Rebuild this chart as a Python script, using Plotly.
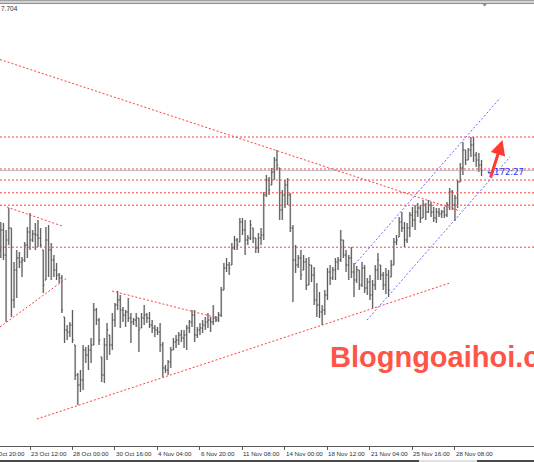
import plotly.graph_objects as go

# ---- H4 price bars, oldest first -------------------------------------------
bar_open = [
    106.91, 107.11, 106.86, 107.01, 107.13, 106.41, 106.71, 106.83, 106.79, 106.81,
    106.96, 107.09, 107.01, 107.07, 107.06, 107.03, 106.91, 106.61, 107.01, 106.91,
    106.81, 106.71, 106.66, 106.63, 106.24, 106.11, 106.09, 106.16, 105.96, 105.66,
    105.56, 105.61, 105.91, 105.86, 105.91, 105.96, 106.31, 106.21, 105.84, 105.66,
    105.96, 106.06, 105.96, 106.21, 106.36, 106.41, 106.31, 106.26, 106.29, 106.23,
    106.19, 106.21, 106.23, 106.13, 106.23, 106.26, 106.23, 106.16, 106.13, 106.11,
    106.09, 105.96, 105.73, 105.71, 105.79, 105.91, 105.99, 106.01, 106.06, 106.03,
    106.06, 106.13, 106.19, 106.26, 106.06, 106.11, 106.13, 106.16, 106.19, 106.21,
    106.19, 106.23, 106.21, 106.26, 106.51, 106.73, 106.76, 106.76, 106.93, 107.01,
    106.99, 107.19, 107.11, 107.01, 107.03, 107.13, 107.03, 106.93, 107.03, 107.06,
    107.46, 107.61, 107.56, 107.69, 107.81, 107.73, 107.31, 107.46, 107.56, 107.46,
    107.13, 106.81, 106.76, 106.83, 106.71, 106.79, 106.56, 106.76, 106.66, 106.41,
    106.36, 106.29, 106.31, 106.46, 106.69, 106.63, 106.71, 106.79, 106.81, 107.01,
    106.86, 106.76, 106.83, 106.69, 106.61, 106.71, 106.56, 106.73, 106.53, 106.59,
    106.46, 106.56, 106.71, 106.76, 106.66, 106.56, 106.66, 106.64, 106.76, 106.99,
    107.04, 107.19, 107.13, 107.01, 107.13, 107.26, 107.21, 107.29, 107.33, 107.23,
    107.36, 107.29, 107.36, 107.29, 107.23, 107.29, 107.27, 107.29, 107.26, 107.36,
    107.49, 107.36, 107.43, 107.59, 107.73, 107.91, 107.81, 107.91, 107.96, 107.86,
    107.81, 107.76,
]
bar_high = [
    107.19, 107.18, 107.11, 107.33, 107.13, 106.79, 106.91, 106.89, 106.84, 106.99,
    107.14, 107.28, 107.11, 107.18, 107.21, 107.13, 106.91, 107.14, 107.16, 106.98,
    106.86, 106.78, 106.68, 106.66, 106.24, 106.16, 106.19, 106.31, 105.96, 105.68,
    105.71, 105.96, 105.94, 105.96, 106.03, 106.38, 106.33, 106.23, 105.84, 106.03,
    106.18, 106.06, 106.28, 106.38, 106.50, 106.46, 106.34, 106.31, 106.43, 106.28,
    106.23, 106.28, 106.23, 106.28, 106.36, 106.28, 106.29, 106.21, 106.16, 106.14,
    106.18, 105.99, 105.76, 105.81, 105.94, 106.03, 106.06, 106.09, 106.11, 106.11,
    106.16, 106.21, 106.31, 106.31, 106.14, 106.18, 106.21, 106.24, 106.28, 106.24,
    106.36, 106.25, 106.29, 106.54, 106.78, 106.83, 106.79, 106.98, 107.05, 107.03,
    107.23, 107.23, 107.21, 107.06, 107.21, 107.13, 107.03, 107.08, 107.13, 107.49,
    107.66, 107.64, 107.73, 107.84, 107.91, 107.73, 107.51, 107.61, 107.63, 107.48,
    107.16, 106.96, 106.86, 106.91, 106.86, 106.83, 106.84, 106.76, 106.74, 106.58,
    106.49, 106.36, 106.51, 106.73, 106.76, 106.74, 106.83, 106.84, 107.11, 107.01,
    106.91, 106.86, 106.94, 106.78, 106.75, 106.71, 106.79, 106.76, 106.63, 106.66,
    106.61, 106.76, 106.88, 106.76, 106.69, 106.73, 106.71, 106.81, 107.03, 107.06,
    107.24, 107.29, 107.19, 107.18, 107.29, 107.34, 107.36, 107.38, 107.36, 107.41,
    107.38, 107.41, 107.39, 107.34, 107.33, 107.33, 107.31, 107.34, 107.39, 107.53,
    107.51, 107.46, 107.61, 107.78, 107.99, 107.91, 107.93, 108.04, 108.04, 107.89,
    107.88, 107.81,
]
bar_low = [
    106.83, 106.81, 106.19, 106.96, 106.24, 106.33, 106.43, 106.73, 106.64, 106.79,
    106.83, 106.91, 106.99, 106.91, 106.94, 106.94, 106.48, 106.61, 106.64, 106.61,
    106.64, 106.61, 106.58, 106.28, 105.98, 106.01, 106.04, 105.98, 105.61, 105.36,
    105.49, 105.51, 105.78, 105.71, 105.78, 105.96, 106.16, 105.96, 105.59, 105.58,
    105.81, 105.86, 105.91, 106.14, 106.31, 106.13, 106.19, 106.14, 106.19, 105.98,
    106.16, 106.14, 105.89, 106.13, 106.16, 106.18, 106.13, 106.08, 106.04, 106.06,
    105.89, 105.64, 105.68, 105.66, 105.73, 105.91, 105.93, 105.96, 105.99, 105.93,
    105.91, 106.08, 106.14, 105.99, 106.03, 106.06, 106.08, 106.11, 106.13, 106.09,
    106.16, 106.19, 106.19, 106.24, 106.51, 106.69, 106.66, 106.76, 106.91, 106.91,
    106.99, 107.06, 106.86, 106.96, 107.01, 106.98, 106.88, 106.88, 106.96, 107.01,
    107.44, 107.46, 107.56, 107.61, 107.71, 107.21, 107.21, 107.33, 107.36, 107.09,
    106.39, 106.68, 106.73, 106.61, 106.71, 106.51, 106.56, 106.59, 106.36, 106.24,
    106.23, 106.16, 106.26, 106.41, 106.56, 106.61, 106.61, 106.71, 106.79, 106.83,
    106.69, 106.61, 106.63, 106.44, 106.58, 106.51, 106.54, 106.48, 106.46, 106.41,
    106.33, 106.51, 106.61, 106.61, 106.51, 106.47, 106.44, 106.64, 106.76, 106.96,
    107.04, 107.09, 106.94, 106.98, 107.04, 107.14, 107.11, 107.24, 107.18, 107.23,
    107.21, 107.28, 107.24, 107.19, 107.18, 107.24, 107.23, 107.23, 107.24, 107.31,
    107.31, 107.20, 107.33, 107.59, 107.66, 107.76, 107.81, 107.84, 107.79, 107.74,
    107.69, 107.65,
]
bar_close = [
    107.11, 106.86, 107.01, 107.13, 106.41, 106.71, 106.83, 106.79, 106.81, 106.96,
    107.09, 107.01, 107.07, 107.06, 107.03, 106.96, 106.56, 107.01, 106.91, 106.81,
    106.71, 106.66, 106.63, 106.31, 106.11, 106.09, 106.16, 106.01, 105.66, 105.56,
    105.61, 105.91, 105.86, 105.91, 105.96, 106.31, 106.21, 106.01, 105.66, 105.96,
    106.11, 105.96, 106.21, 106.36, 106.41, 106.31, 106.26, 106.29, 106.23, 106.19,
    106.21, 106.23, 106.11, 106.23, 106.26, 106.23, 106.16, 106.13, 106.11, 106.09,
    105.96, 105.73, 105.71, 105.79, 105.91, 105.99, 106.01, 106.06, 106.03, 106.06,
    106.13, 106.19, 106.26, 106.06, 106.11, 106.13, 106.16, 106.19, 106.21, 106.19,
    106.23, 106.21, 106.26, 106.51, 106.73, 106.76, 106.73, 106.93, 107.01, 106.96,
    107.19, 107.11, 107.01, 107.03, 107.16, 107.03, 106.93, 107.03, 107.06, 107.46,
    107.61, 107.51, 107.69, 107.81, 107.76, 107.31, 107.46, 107.56, 107.46, 107.13,
    106.81, 106.76, 106.83, 106.66, 106.79, 106.56, 106.76, 106.66, 106.41, 106.36,
    106.29, 106.31, 106.46, 106.69, 106.63, 106.71, 106.79, 106.81, 107.01, 106.86,
    106.76, 106.83, 106.69, 106.61, 106.71, 106.56, 106.73, 106.53, 106.59, 106.46,
    106.56, 106.71, 106.81, 106.66, 106.56, 106.66, 106.51, 106.76, 106.99, 107.01,
    107.19, 107.13, 107.01, 107.13, 107.26, 107.21, 107.29, 107.33, 107.23, 107.36,
    107.29, 107.36, 107.29, 107.23, 107.29, 107.27, 107.29, 107.26, 107.36, 107.49,
    107.36, 107.43, 107.59, 107.73, 107.91, 107.81, 107.91, 107.96, 107.86, 107.81,
    107.76, 107.704,
]

# ---- time axis: one label every 16 bars -------------------------------------
tick_bars = [-5, 11, 27, 43, 59, 75, 91, 107, 123, 139, 155, 171]
tick_text = ["20 Oct 20:00", "23 Oct 12:00", "28 Oct 00:00", "30 Oct 16:00",
             "4 Nov 04:00", "6 Nov 20:00", "11 Nov 08:00", "14 Nov 00:00",
             "18 Nov 12:00", "21 Nov 04:00", "25 Nov 16:00", "28 Nov 08:00"]

# ---- drawn objects ----------------------------------------------------------
level_prices = [108.04, 107.72, 107.61, 107.482, 107.358, 106.938]

# red trend lines: (bar, price) -> (bar, price)
red_x0 = [-0.3, 2.3, -0.3, 41.9, 13.6]
red_y0 = [108.815, 107.34, 106.14, 106.50, 105.22]
red_x1 = [172.9, 23.1, 24.9, 81.8, 169.1]
red_y1 = [107.30, 107.15, 106.63, 106.23, 106.58]

# blue rising channel
blue_x0 = [133.4, 137.9]
blue_y0 = [106.77, 106.21]
blue_x1 = [188.0, 191.7]
blue_y1 = [108.43, 107.84]

arrow_tail = (184.2, 107.62)
arrow_head = (188.9, 108.01)
timer_text = "←172:27"
timer_pos = (182.6, 107.69)

X_RANGE = [-0.294, 200.76]
Y_RANGE = [104.95, 109.37]

RED = "#ff3c3c"
BLUE = "#6464ff"
AXIS = "#5a5a5a"
LABEL_FONT = dict(family="Liberation Sans, Arial, sans-serif", size=6.2, color="#2e2e2e")

fig = go.Figure()
bar_x = list(range(len(bar_close)))
# soft halo under each bar, then the bar itself
fig.add_trace(go.Ohlc(
    x=bar_x, open=bar_open, high=bar_high, low=bar_low, close=bar_close,
    increasing=dict(line=dict(color="#cdcdcd", width=2.0)),
    decreasing=dict(line=dict(color="#cdcdcd", width=2.0)),
    tickwidth=0.45, hoverinfo="skip",
))
fig.add_trace(go.Ohlc(
    x=bar_x, open=bar_open, high=bar_high, low=bar_low, close=bar_close,
    increasing=dict(line=dict(color="#3c3c3c", width=0.8)),
    decreasing=dict(line=dict(color="#3c3c3c", width=0.8)),
    tickwidth=0.4, hoverinfo="skip",
))

shapes = []
# bid line
shapes.append(dict(type="line", xref="paper", x0=0, x1=1, yref="y",
                   y0=bar_close[-1], y1=bar_close[-1], layer="below",
                   line=dict(color="#bcbcbc", width=1)))
for p in level_prices:
    shapes.append(dict(type="line", xref="paper", x0=0, x1=1, yref="y", y0=p, y1=p,
                       line=dict(color=RED, width=1, dash="2px,2px")))
for x0, y0, x1, y1 in zip(red_x0, red_y0, red_x1, red_y1):
    shapes.append(dict(type="line", xref="x", yref="y", x0=x0, y0=y0, x1=x1, y1=y1,
                       line=dict(color=RED, width=1, dash="2px,2px")))
for x0, y0, x1, y1 in zip(blue_x0, blue_y0, blue_x1, blue_y1):
    shapes.append(dict(type="line", xref="x", yref="y", x0=x0, y0=y0, x1=x1, y1=y1,
                       line=dict(color=BLUE, width=1, dash="2px,2px")))

# window frame: top band, shift marker, bottom edge
PLOT_H = 442.0
def py(px):
    return (446.0 - px) / PLOT_H

shapes += [
    dict(type="rect", xref="paper", yref="paper", x0=0, x1=1, y0=py(4), y1=py(0),
         fillcolor="#d2d2d2", line=dict(width=0)),
    dict(type="line", xref="paper", yref="paper", x0=0, x1=1, y0=py(0.5), y1=py(0.5),
         line=dict(color="#a2a2a2", width=1)),
    dict(type="line", xref="paper", yref="paper", x0=0, x1=1, y0=py(3.5), y1=py(3.5),
         line=dict(color="#8e8e8e", width=1)),
    dict(type="path", xref="paper", yref="paper",
         path=f"M {481.7/534} {py(3.3)} L {487.5/534} {py(3.3)} L {484.6/534} {py(6.5)} Z",
         fillcolor="#8a8a8a", line=dict(width=0)),
    dict(type="line", xref="paper", yref="paper", x0=0, x1=419/534, y0=py(461), y1=py(461),
         line=dict(color="#4a4a4a", width=2)),
    dict(type="line", xref="paper", yref="paper", x0=419/534, x1=477/534, y0=py(461), y1=py(461),
         line=dict(color="#e2e2e2", width=2)),
    dict(type="line", xref="paper", yref="paper", x0=477/534, x1=1, y0=py(461), y1=py(461),
         line=dict(color="#4a4a4a", width=2)),
]

annotations = []
span = X_RANGE[1] - X_RANGE[0]
for b, t in zip(tick_bars, tick_text):
    if X_RANGE[0] <= b <= X_RANGE[1]:
        annotations.append(dict(x=b, xref="x", y=py(453), yref="paper", text=t,
                                showarrow=False, xanchor="left", yanchor="middle",
                                borderpad=0, font=LABEL_FONT))
    else:
        annotations.append(dict(x=(b - X_RANGE[0]) / span, xref="paper", y=py(453),
                                yref="paper", text=t, showarrow=False, xanchor="left",
                                yanchor="middle", borderpad=0, font=LABEL_FONT))

annotations.append(dict(x=0, xref="paper", y=py(9), yref="paper", text="7.704",
                        showarrow=False, xanchor="left", yanchor="middle", borderpad=0,
                        font=dict(family="Liberation Sans, Arial, sans-serif", size=6.5,
                                  color="#2e2e2e")))
annotations.append(dict(x=timer_pos[0], y=timer_pos[1], xref="x", yref="y", text=timer_text,
                        showarrow=False, xanchor="left", yanchor="middle", borderpad=0,
                        font=dict(family="DejaVu Sans, sans-serif", size=8.5,
                                  color="#3434ff")))
annotations.append(dict(x=arrow_head[0], y=arrow_head[1], xref="x", yref="y",
                        ax=arrow_tail[0], ay=arrow_tail[1], axref="x", ayref="y",
                        text="", showarrow=True, arrowhead=2, arrowsize=1,
                        arrowwidth=3, arrowcolor="#ff3b30", standoff=0))
annotations.append(dict(x=329 / 534, xref="paper", y=py(357), yref="paper",
                        text="<b>Blogngoaihoi.com</b>", showarrow=False,
                        xanchor="left", yanchor="middle", borderpad=0,
                        font=dict(family="Liberation Sans, Arial, sans-serif", size=29,
                                  color="#ff5549")))

fig.update_layout(
    width=534, height=462,
    margin=dict(l=0, r=0, t=4, b=16, pad=0),
    paper_bgcolor="white", plot_bgcolor="white",
    showlegend=False,
    shapes=shapes, annotations=annotations,
    xaxis=dict(range=X_RANGE, showgrid=False, zeroline=False, showline=True,
               linecolor=AXIS, linewidth=1, ticks="outside", ticklen=3,
               tickcolor=AXIS, tickwidth=1,
               tickvals=[b for b in tick_bars if b >= X_RANGE[0]],
               showticklabels=False, rangeslider=dict(visible=False), fixedrange=True),
    yaxis=dict(range=Y_RANGE, visible=False, fixedrange=True),
)

fig.write_html("out.html")
